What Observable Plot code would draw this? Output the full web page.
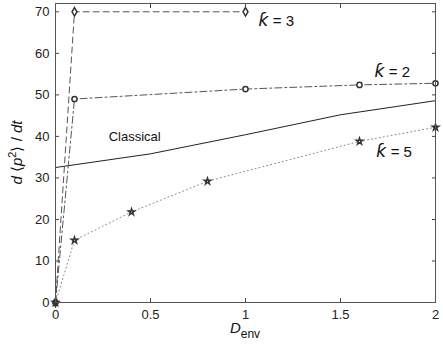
<!DOCTYPE html>
<html><head><meta charset="utf-8">
<script src="https://cdn.jsdelivr.net/npm/d3@7"></script>
<script src="https://cdn.jsdelivr.net/npm/@observablehq/plot@0.6"></script>
<style>body{margin:0;background:#fff;} svg{display:block;}</style>
</head><body><div id="chart"></div>
<script>
const xTicks = [0, 0.5, 1, 1.5, 2];
const yTicks = [0, 10, 20, 30, 40, 50, 60, 70];

const xK3 = [0, 0.1, 1];
const yK3 = [0, 70, 70];
const xK2 = [0, 0.1, 1, 1.6, 2];
const yK2 = [0, 49, 51.4, 52.4, 52.8];
const xK5 = [0, 0.1, 0.4, 0.8, 1.6, 2];
const yK5 = [0, 15, 21.8, 29.2, 38.8, 42.2];
const xCl = [0, 0.5, 1, 1.5, 2];
const yCl = [32.5, 35.8, 40.4, 45.2, 48.6];

const labelText = ["ƙ = 3", "ƙ = 2", "Classical", "ƙ = 5"];
const labelX = [1.07, 1.68, 0.28, 1.69];
const labelY = [67.8, 55.4, 39.8, 36.2];

const toRows = (xs, ys) => xs.map((x, i) => ({x, y: ys[i]}));
const k3 = toRows(xK3, yK3), k2 = toRows(xK2, yK2), k5 = toRows(xK5, yK5), cl = toRows(xCl, yCl);
const labels = labelText.map((t, i) => ({t, x: labelX[i], y: labelY[i], k: t !== "Classical"}));

const chart = Plot.plot({
  width: 443, height: 344,
  marginLeft: 55, marginRight: 8, marginTop: 3, marginBottom: 42,
  style: {fontFamily: "'Liberation Sans', Arial, sans-serif", fontSize: "12px", background: "#fff", color: "#222"},
  x: {domain: [0, 2]},
  y: {domain: [0, 72]},
  marks: [
    Plot.line(cl, {x: "x", y: "y", stroke: "#222", strokeWidth: 1}),
    Plot.line(k3, {x: "x", y: "y", stroke: "#555", strokeWidth: 1, strokeDasharray: "6,4"}),
    Plot.line(k2, {x: "x", y: "y", stroke: "#555", strokeWidth: 1, strokeDasharray: "7,3,2,3"}),
    Plot.line(k5, {x: "x", y: "y", stroke: "#888", strokeWidth: 1, strokeDasharray: "1,3"}),
    Plot.dot(k3, {x: "x", y: "y", symbol: "diamond", r: 2.6, stroke: "#333", fill: "white"}),
    Plot.dot(k2, {x: "x", y: "y", symbol: "circle", r: 2.6, stroke: "#333", fill: "white"}),
    Plot.dot(k5, {x: "x", y: "y", symbol: "star", r: 2, stroke: "#333", fill: "white"}),
    Plot.text(labels.filter(d => !d.k), {x: "x", y: "y", text: "t", textAnchor: "start", fontSize: 13, fill: "#111"}),
    Plot.text(labels.filter(d => d.k), {x: "x", y: "y", text: "t", textAnchor: "start", fontSize: 15, fill: "#111"}),
    Plot.axisX(xTicks, {anchor: "bottom", tickSize: -4, tickPadding: 11, label: null, tickFormat: d => String(d), stroke: "#444", fontSize: 13}),
    Plot.axisX(xTicks, {anchor: "top", tickSize: -4, tickFormat: () => "", label: null, stroke: "#444"}),
    Plot.axisY(yTicks, {anchor: "left", tickSize: -4, tickPadding: 10, label: null, tickFormat: d => String(d), stroke: "#444", fontSize: 13}),
    Plot.axisY(yTicks, {anchor: "right", tickSize: -4, tickFormat: () => "", label: null, stroke: "#444"}),
    Plot.frame({stroke: "#555"})
  ]
});
document.getElementById("chart").appendChild(chart);

const svg = d3.select(chart);
const xs = chart.scale("x"), ys = chart.scale("y");
// kappa glyph in italic
svg.selectAll("text").each(function() {
  const s = this.textContent;
  if (s && s.startsWith("ƙ")) {
    this.textContent = "";
    const t = d3.select(this);
    t.append("tspan").attr("font-style", "italic").attr("font-family", "'DejaVu Sans', sans-serif").attr("font-size", 17).text("ƙ");
    t.append("tspan").text(s.slice(1));
  }
});
// x axis label
const xl = svg.append("text")
  .attr("x", xs.apply(1)).attr("y", 333)
  .attr("text-anchor", "middle")
  .attr("font-family", "'Liberation Sans', Arial, sans-serif")
  .attr("font-size", 15).attr("fill", "#111");
xl.append("tspan").attr("font-style", "italic").text("D");
xl.append("tspan").attr("font-size", 12).attr("dy", 5).text("env");
// y axis label
const yc = (ys.apply(0) + ys.apply(72)) / 2;
const yl = svg.append("text")
  .attr("transform", `translate(22,${yc}) rotate(-90)`)
  .attr("text-anchor", "middle")
  .attr("font-family", "'Liberation Sans', Arial, sans-serif")
  .attr("font-size", 15).attr("fill", "#111");
yl.append("tspan").attr("font-style", "italic").text("d");
yl.append("tspan").text(" \u27E8");
yl.append("tspan").attr("font-style", "italic").text("p");
yl.append("tspan").attr("font-size", 11).attr("dy", -6).text("2");
yl.append("tspan").attr("dy", 6).text("\u27E9 / ");
yl.append("tspan").attr("font-style", "italic").text("dt");
</script>
</body></html>
